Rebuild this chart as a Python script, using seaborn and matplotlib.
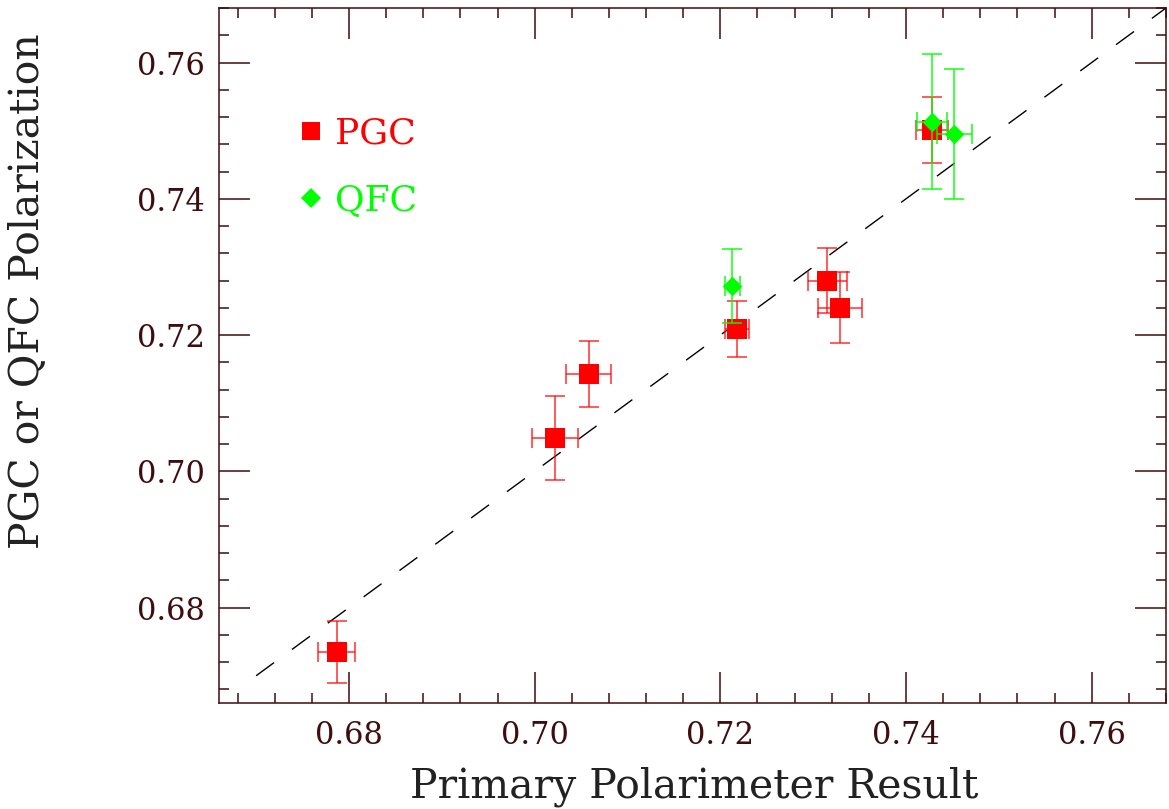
import matplotlib
matplotlib.use("Agg")
import numpy as np
import pandas as pd
import seaborn as sns
import matplotlib.pyplot as plt
from matplotlib.lines import Line2D
from matplotlib.ticker import MultipleLocator

# PGC results against the primary polarimeter
pgc_primary = [0.6787, 0.7022, 0.7058, 0.7218, 0.7315, 0.7329, 0.7428]
pgc_primary_err = [0.0020, 0.0025, 0.0024, 0.0013, 0.0021, 0.0024, 0.0017]
pgc_value = [0.6735, 0.7049, 0.7143, 0.7209, 0.7280, 0.7240, 0.7501]
pgc_value_err = [0.0045, 0.0061, 0.0049, 0.0041, 0.0048, 0.0052, 0.0049]

# QFC results against the primary polarimeter
qfc_primary = [0.7213, 0.7428, 0.7452]
qfc_primary_err = [0.0008, 0.0016, 0.0019]
qfc_value = [0.7272, 0.7513, 0.7495]
qfc_value_err = [0.0055, 0.0099, 0.0095]

axis_range = [0.666, 0.768]
diag_range = [0.670, 0.768]
tick_values = [0.68, 0.70, 0.72, 0.74, 0.76]

frame_color = "#3f0d0d"
red = "#ff0000"
green = "#00ff00"

sns.set_style("ticks")
plt.rcParams["font.family"] = ["DejaVu Serif"]

fig = plt.figure(figsize=(11.69, 8.09), dpi=100)
ax = fig.add_axes([219 / 1169, 1 - 703 / 809, 947 / 1169, 695 / 809])

df_pgc = pd.DataFrame({"primary": pgc_primary, "value": pgc_value})
df_qfc = pd.DataFrame({"primary": qfc_primary, "value": qfc_value})

# Ideal y = x line
ax.plot(diag_range, diag_range, color="black", lw=1.0,
        linestyle=(0, (16, 16)), zorder=1)

# PGC error bars and markers
ax.errorbar(pgc_primary, pgc_value, xerr=pgc_primary_err, yerr=pgc_value_err,
            fmt="none", ecolor=red, elinewidth=1.2, capsize=7.5,
            capthick=1.2, alpha=0.75, zorder=2)
sns.scatterplot(ax=ax, data=df_pgc, x="primary", y="value", marker="s",
                color=red, s=190, linewidth=0, zorder=3, legend=False)

# QFC error bars and markers
ax.errorbar(qfc_primary, qfc_value, xerr=qfc_primary_err, yerr=qfc_value_err,
            fmt="none", ecolor=green, elinewidth=1.2, capsize=7.5,
            capthick=1.2, alpha=0.85, zorder=4)
sns.scatterplot(ax=ax, data=df_qfc, x="primary", y="value", marker="D",
                color=green, s=100, linewidth=0, zorder=5, legend=False)

ax.set_xlim(axis_range)
ax.set_ylim(axis_range)
ax.set_xticks(tick_values)
ax.set_yticks(tick_values)
ax.set_xticklabels([f"{v:.2f}" for v in tick_values])
ax.set_yticklabels([f"{v:.2f}" for v in tick_values])
ax.xaxis.set_minor_locator(MultipleLocator(0.004))
ax.yaxis.set_minor_locator(MultipleLocator(0.004))

ax.tick_params(which="both", direction="in", top=True, right=True,
               color=frame_color, width=1.1, labelcolor=frame_color,
               labelsize=22)
ax.tick_params(which="major", length=22)
ax.tick_params(which="minor", length=7.5)
ax.tick_params(axis="x", pad=12)
ax.tick_params(axis="y", pad=10)
for spine in ax.spines.values():
    spine.set_visible(True)
    spine.set_color(frame_color)
    spine.set_linewidth(1.1)

ax.set_xlabel("")
ax.set_ylabel("")
fig.text(694 / 1169, 1 - 787 / 809, "Primary Polarimeter Result",
         ha="center", va="center", fontsize=29.5, color="#222222")
fig.text(28 / 1169, 1 - 291 / 809, "PGC or QFC Polarization",
         ha="center", va="center", rotation=90, fontsize=29.5, color="#222222")

# Legend
handles = [
    Line2D([], [], marker="s", color=red, linestyle="none", markersize=13.5,
           markeredgewidth=0),
    Line2D([], [], marker="D", color=green, linestyle="none", markersize=10,
           markeredgewidth=0),
]
ax.legend(handles, ["PGC", "QFC"], loc="upper left",
          bbox_to_anchor=(0.082, 0.844), frameon=False, fontsize=26,
          handlelength=0.8, handletextpad=0.25, labelspacing=0.93,
          borderpad=0, borderaxespad=0, labelcolor=[red, green])

fig.savefig("out.png", dpi=100)
